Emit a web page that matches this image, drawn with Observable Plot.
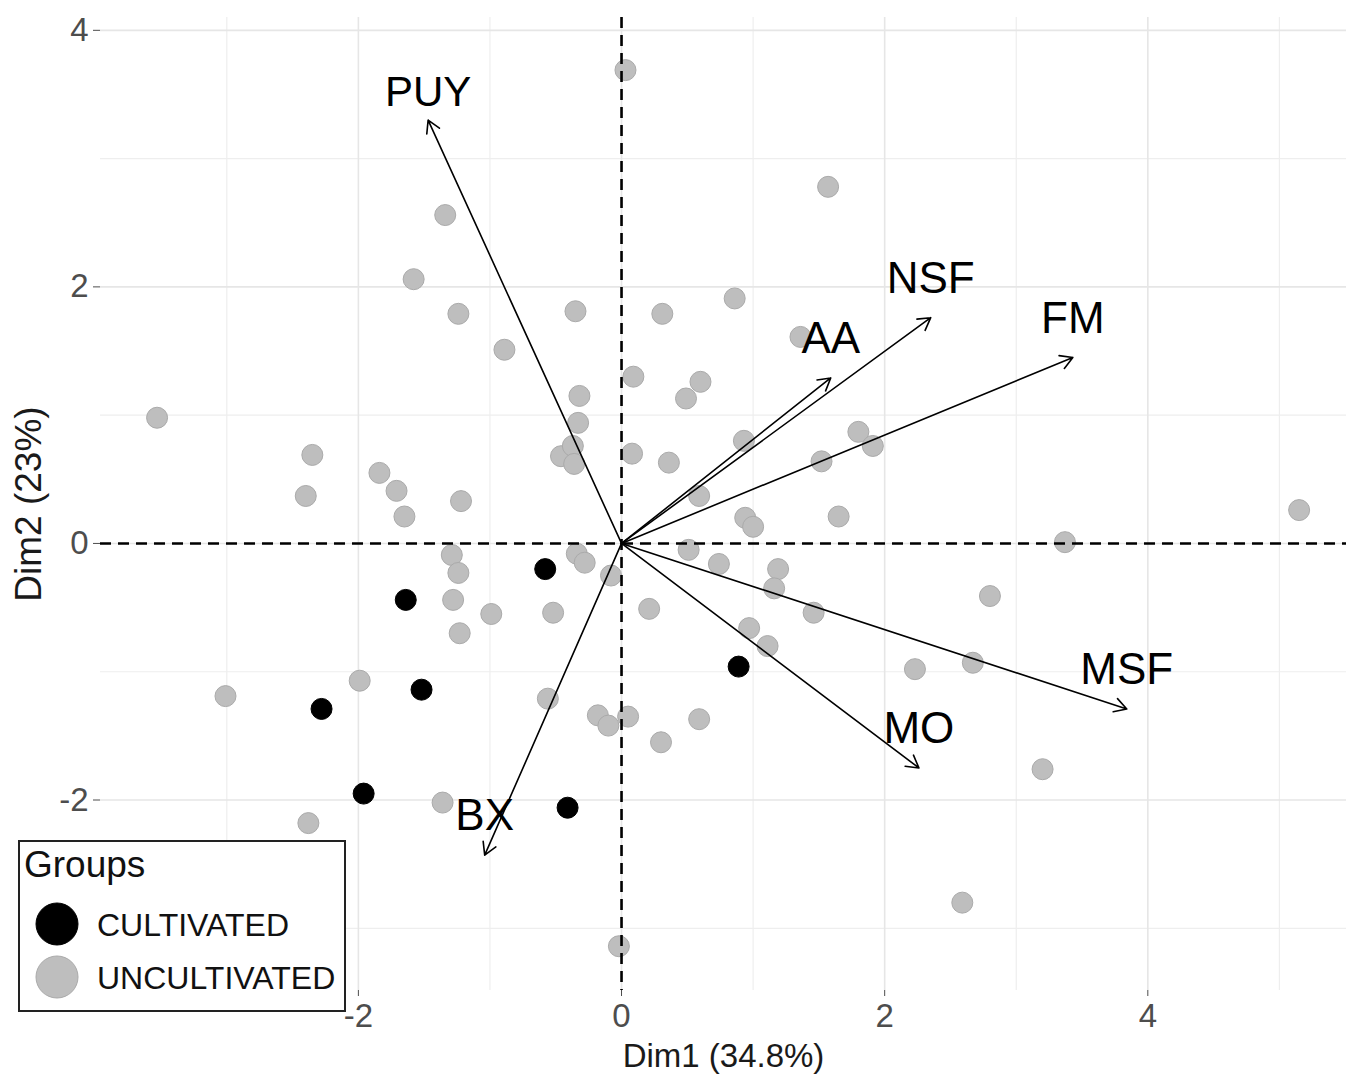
<!DOCTYPE html>
<html><head><meta charset="utf-8">
<script src="https://cdn.jsdelivr.net/npm/d3@7"></script>
<script src="https://cdn.jsdelivr.net/npm/@observablehq/plot@0.6"></script>
<style>
html,body{margin:0;padding:0;background:#fff;overflow:hidden}
#wrap{position:relative;width:1346px;height:1075px;font-family:"Liberation Sans",Arial,sans-serif}
#legend{position:absolute;left:18px;top:840px}
</style></head><body><div id="wrap"></div>
<script>
// Individuals (PCA scores)
const uncultX = [0.03,1.57,-1.34,-1.58,-1.24,-0.35,0.31,0.86,1.36,-0.89,0.09,0.60,0.49,-0.32,-0.33,-3.53,-2.35,-1.84,-2.40,-1.71,-1.65,-1.22,-0.46,-0.37,-0.36,0.08,0.36,0.93,0.59,1.80,1.91,1.52,0.94,1.00,1.65,5.15,3.37,0.51,-0.34,-0.28,-1.29,-1.24,-1.28,-1.23,-0.99,-0.52,-0.08,0.21,0.74,1.19,1.16,1.46,0.97,1.11,2.80,2.23,2.67,3.20,2.59,-1.99,-3.01,-0.56,-0.18,-0.10,0.05,0.59,0.30,-1.36,-2.38,-0.02];
const uncultY = [3.69,2.78,2.56,2.06,1.79,1.81,1.79,1.91,1.61,1.51,1.30,1.26,1.13,1.15,0.94,0.98,0.69,0.55,0.37,0.41,0.21,0.33,0.68,0.76,0.62,0.70,0.63,0.80,0.37,0.87,0.76,0.64,0.20,0.13,0.21,0.26,0.01,-0.05,-0.08,-0.15,-0.09,-0.23,-0.44,-0.70,-0.55,-0.54,-0.25,-0.51,-0.16,-0.20,-0.35,-0.54,-0.66,-0.80,-0.41,-0.98,-0.93,-1.76,-2.80,-1.07,-1.19,-1.21,-1.34,-1.42,-1.35,-1.37,-1.55,-2.02,-2.18,-3.14];
const cultX = [-0.58,-1.64,-1.52,-2.28,0.89,-1.96,-0.41];
const cultY = [-0.20,-0.44,-1.14,-1.29,-0.96,-1.95,-2.06];

// Variables (loadings arrows)
const varNames = ["PUY","AA","NSF","FM","MSF","MO","BX"];
const varX = [-1.47,1.59,2.35,3.43,3.84,2.26,-1.04];
const varY = [3.30,1.29,1.76,1.45,-1.29,-1.75,-2.43];

// Groups / legend
const groupNames = ["CULTIVATED","UNCULTIVATED"];
const groupFill = ["#000000","#bebebe"];
const groupStroke = ["#000000","#aaaaaa"];
const legendTitle = "Groups";

// Axes
const xTicks = [-2,0,2,4];
const yTicks = [-2,0,2,4];
const xMinor = [-3,-1,1,3,5];
const yMinor = [-3,-1,1,3];
const xTitle = "Dim1 (34.8%)";
const yTitle = "Dim2 (23%)";

const uncult = uncultX.map((x,i)=>({x, y: uncultY[i], group: groupNames[1]}));
const cult = cultX.map((x,i)=>({x, y: cultY[i], group: groupNames[0]}));
const vars = varNames.map((name,i)=>({name, x: varX[i], y: varY[i]}));
const fmt = d => `${d}`;

const font = "'Liberation Sans', Arial, sans-serif";
const chart = Plot.plot({
  width: 1346, height: 1075,
  marginLeft: 100, marginRight: 0, marginTop: 17, marginBottom: 85,
  x: {domain: [-3.96, 5.51]},
  y: {domain: [-3.485, 4.10]},
  style: {fontFamily: font, background: "white", overflow: "visible"},
  marks: [
    Plot.gridX(xMinor, {stroke: "#eeeeee", strokeOpacity: 1, strokeWidth: 1.2}),
    Plot.gridY(yMinor, {stroke: "#eeeeee", strokeOpacity: 1, strokeWidth: 1.2}),
    Plot.gridX(xTicks, {stroke: "#e6e6e6", strokeOpacity: 1, strokeWidth: 1.6}),
    Plot.gridY(yTicks, {stroke: "#e6e6e6", strokeOpacity: 1, strokeWidth: 1.6}),
    Plot.axisX(xTicks, {tickSize: 6, tickPadding: 7, fontSize: 33, color: "#4d4d4d", label: null, tickFormat: fmt}),
    Plot.axisY(yTicks, {tickSize: 7, tickPadding: 5, fontSize: 33, color: "#4d4d4d", label: null, tickFormat: fmt}),
    Plot.text([xTitle], {frameAnchor: "bottom", textAnchor: "middle", lineAnchor: "middle", dy: 66, fontSize: 33, fill: "#1a1a1a"}),
    Plot.text([yTitle], {frameAnchor: "left", textAnchor: "middle", lineAnchor: "middle", rotate: -90, dx: -71, fontSize: 37, fill: "#1a1a1a"}),
    Plot.dot(uncult, {x: "x", y: "y", r: 10.5, fill: groupFill[1], stroke: groupStroke[1], strokeWidth: 1}),
    Plot.dot(cult, {x: "x", y: "y", r: 10.5, fill: groupFill[0], stroke: groupStroke[0], strokeWidth: 1}),
    Plot.ruleX([0], {stroke: "black", strokeWidth: 2.6, strokeDasharray: "11,7"}),
    Plot.ruleY([0], {stroke: "black", strokeWidth: 2.6, strokeDasharray: "11,7"}),
    Plot.arrow(vars, {x1: d => 0, y1: d => 0, x2: "x", y2: "y", stroke: "black", strokeWidth: 1.6, headLength: 13}),
    Plot.text(vars.filter(d => d.name !== "PUY"), {x: "x", y: "y", text: "name", dy: -39, fontSize: 44, fill: "black"}),
    Plot.text(vars.filter(d => d.name === "PUY"), {x: "x", y: "y", text: "name", dy: -28, fontSize: 42, fill: "black"})
  ]
});

const wrap = document.getElementById("wrap");
wrap.appendChild(chart);

// Legend overlay
const leg = d3.select(wrap).append("div").attr("id","legend");
const svg = leg.append("svg").attr("width", 328).attr("height", 172)
  .style("font-family", font);
svg.append("rect").attr("x",1).attr("y",1).attr("width",326).attr("height",170)
  .attr("fill","white").attr("stroke","#222").attr("stroke-width",2);
svg.append("text").attr("x",6).attr("y",37).attr("font-size",37).attr("fill","#111").text(legendTitle);
groupNames.forEach((g,i)=>{
  const cy = 84 + i*53;
  svg.append("circle").attr("cx",39).attr("cy",cy).attr("r",21)
    .attr("fill",groupFill[i]).attr("stroke",groupStroke[i]).attr("stroke-width",1);
  svg.append("text").attr("x",79).attr("y",cy).attr("dy","0.36em").attr("font-size",32)
    .attr("fill","#111").text(g);
});
</script></body></html>
